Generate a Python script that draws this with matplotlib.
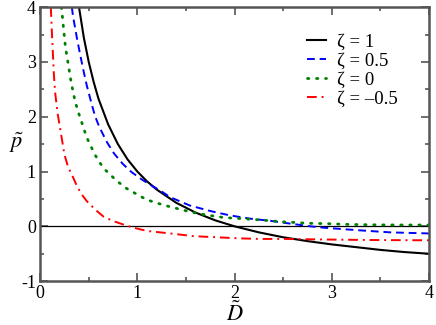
import matplotlib
matplotlib.use("Agg")
import matplotlib.pyplot as plt
from matplotlib.ticker import MultipleLocator

plt.rcParams['font.family'] = ['Liberation Serif', 'DejaVu Serif']
plt.rcParams['mathtext.fontset'] = 'stix'

# curves: D~ and p~ for each zeta
d_z1 = [0.40, 0.45, 0.50, 0.55, 0.60, 0.70, 0.80, 0.90, 1.00, 1.10, 1.20, 1.40,
        1.60, 1.80, 2.00, 2.25, 2.50, 2.75, 3.00, 3.25, 3.50, 3.75, 4.00]
p_z1 = [4.00, 3.44, 3.00, 2.64, 2.33, 1.86, 1.50, 1.22, 1.00, 0.82, 0.67, 0.43,
        0.25, 0.11, 0.00, -0.11, -0.20, -0.27, -0.33, -0.38, -0.43, -0.47, -0.50]

d_z05 = [0.326, 0.34, 0.377, 0.41, 0.445, 0.48, 0.52, 0.565, 0.61, 0.686, 0.76,
         0.85, 0.94, 1.05, 1.15, 1.22, 1.34, 1.54, 1.75, 1.95, 2.16, 2.37, 2.57,
         2.78, 2.91, 3.26, 3.60, 4.00]
p_z05 = [4.00, 3.82, 3.45, 3.15, 2.85, 2.57, 2.30, 2.01, 1.81, 1.54, 1.33,
         1.14, 0.99, 0.85, 0.74, 0.67, 0.53, 0.38, 0.28, 0.20, 0.14, 0.10, 0.05,
         0.00, -0.024, -0.07, -0.11, -0.13]

d_z0 = [0.22, 0.24, 0.26, 0.29, 0.32, 0.36, 0.39, 0.45, 0.48, 0.52, 0.56, 0.61,
        0.67, 0.74, 0.81, 0.89, 0.97, 1.05, 1.14, 1.23, 1.33, 1.42, 1.51, 1.61,
        1.70, 1.89, 2.08, 2.28, 2.47, 2.77, 2.95, 3.15, 3.34, 3.53, 3.72, 4.00]
p_z0 = [4.00, 3.63, 3.28, 2.95, 2.62, 2.28, 2.10, 1.78, 1.62, 1.47, 1.32, 1.17,
        1.03, 0.91, 0.80, 0.69, 0.61, 0.53, 0.46, 0.41, 0.36, 0.32, 0.28, 0.24,
        0.21, 0.16, 0.14, 0.115, 0.085, 0.055, 0.049, 0.036, 0.030, 0.026, 0.025, 0.024]

d_zm05 = [0.11, 0.12, 0.13, 0.14, 0.154, 0.18, 0.216, 0.25, 0.29, 0.33, 0.37,
          0.42, 0.48, 0.57, 0.65, 0.75, 0.89, 0.96, 1.10, 1.34, 1.58, 1.82,
          2.06, 2.26, 2.50, 2.91, 3.40, 4.00]
p_zm05 = [4.00, 3.58, 3.21, 2.82, 2.45, 2.06, 1.68, 1.31, 1.07, 0.93, 0.77,
          0.60, 0.46, 0.30, 0.18, 0.097, 0.013, -0.024, -0.085, -0.13, -0.18, -0.20,
          -0.22, -0.23, -0.23, -0.24, -0.25, -0.255]

fig = plt.figure(figsize=(4.36, 3.25), dpi=100)
ax = fig.add_axes([0.092, 0.135, 0.892, 0.843])

ax.axhline(0, color='black', lw=0.9)
ax.plot(d_z1, p_z1, color='black', lw=1.5, label='ζ = 1')
ax.plot(d_z05, p_z05, color='blue', lw=1.4, ls=(0, (4, 2.5)), label='ζ = 0.5')
ax.plot(d_z0, p_z0, color='green', lw=2.0, ls=(0, (0.5, 2.75)),
        dash_capstyle='round', label='ζ = 0')
ax.plot(d_zm05, p_zm05, color='red', lw=1.4, ls=(0, (5, 2.5, 1, 2.5)),
        label='ζ = –0.5')

ax.set_xlim(0, 4)
ax.set_ylim(-1, 4)
ax.xaxis.set_major_locator(MultipleLocator(1))
ax.xaxis.set_minor_locator(MultipleLocator(0.5))
ax.yaxis.set_minor_locator(MultipleLocator(0.5))
ax.set_yticks([-1, 0, 1, 2, 3, 4])
ax.set_yticklabels(['-1', '0', '1', '2', '3', '4'])

gray = '#555555'
for s in ax.spines.values():
    s.set_color(gray)
    s.set_linewidth(1.8)
ax.tick_params(which='both', direction='in', top=True, right=True,
               color=gray, labelsize=13, pad=3)
ax.tick_params(which='major', length=6, width=1.2)
ax.tick_params(which='minor', length=3, width=1.2)

ax.set_xlabel(r'$\tilde{D}$', fontsize=16)
ax.xaxis.set_label_coords(0.5, -0.074)
ax.set_ylabel(r'$\tilde{p}$', fontsize=16, rotation=0)
ax.yaxis.set_label_coords(-0.06, 0.46)

ax.legend(loc='upper right', frameon=False, fontsize=13.5, handlelength=1.05,
          handletextpad=0.6, labelspacing=0.1, borderaxespad=0.0,
          bbox_to_anchor=(0.94, 0.93))

fig.savefig('out.png', dpi=100)
